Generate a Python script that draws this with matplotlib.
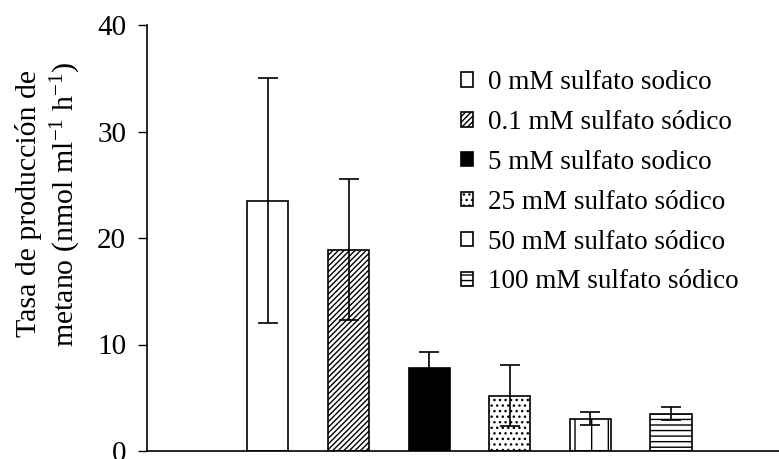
import matplotlib
matplotlib.use("Agg")
import matplotlib.pyplot as plt
import numpy as np

labels = ["0 mM sulfato sodico", "0.1 mM sulfato sódico", "5 mM sulfato sodico",
          "25 mM sulfato sódico", "50 mM sulfato sódico", "100 mM sulfato sódico"]
values = [23.5, 18.9, 7.8, 5.2, 3.05, 3.5]
errors = [11.5, 6.6, 1.5, 2.85, 0.65, 0.6]
yticks = [0, 10, 20, 30, 40]

fills = ["white", "white", "black", "white", "white", "white"]
hatches = [None, "//////", None, "...", "|", "---"]

plt.rcParams['font.family'] = ['Liberation Serif', 'DejaVu Serif']
plt.rcParams['mathtext.fontset'] = 'custom'
plt.rcParams['mathtext.rm'] = 'Liberation Serif'
plt.rcParams['mathtext.it'] = 'Liberation Serif:italic'
plt.rcParams['mathtext.bf'] = 'Liberation Serif:bold'
plt.rcParams['hatch.linewidth'] = 1.0
plt.rcParams['hatch.color'] = '#444444'

fig = plt.figure(figsize=(7.79, 4.59), dpi=100)
ax = fig.add_axes([147/779, 8/459, (779-147)/779, (451-25)/459])

x = np.arange(len(values))
for i in range(len(values)):
    ax.bar(x[i], values[i], width=0.51, color=fills[i], edgecolor='black',
           hatch=hatches[i], linewidth=1.2, label=labels[i], zorder=2)
    ax.errorbar(x[i], values[i], yerr=errors[i], fmt='none', ecolor='black',
                elinewidth=1.2, capsize=7, capthick=1.2, zorder=3)

ax.set_xlim(-1.5, 6.34)
ax.set_ylim(0, 40)
ax.set_yticks(yticks)
ax.set_xticks([])
ax.spines['top'].set_visible(False)
ax.spines['right'].set_visible(False)
ax.spines['left'].set_linewidth(1.2)
ax.spines['bottom'].set_linewidth(1.2)
ax.tick_params(axis='y', direction='out', length=6.5, width=1.0, labelsize=21, pad=8.5)
ax.set_ylabel("Tasa de producción de\nmetano (nmol ml$^{\\mathrm{-1}}$ h$^{\\mathrm{-1}}$)",
              fontsize=21.5, linespacing=1.28)
ax.yaxis.set_label_coords(-0.101, 0.58)

leg = fig.legend(loc='upper left', bbox_to_anchor=(461/779, 1 - 70/459), frameon=False,
                 fontsize=19.5, handlelength=0.45, handleheight=0.45, handletextpad=0.55,
                 labelspacing=0.55, borderpad=0, borderaxespad=0)

fig.savefig("out.png", dpi=100)
